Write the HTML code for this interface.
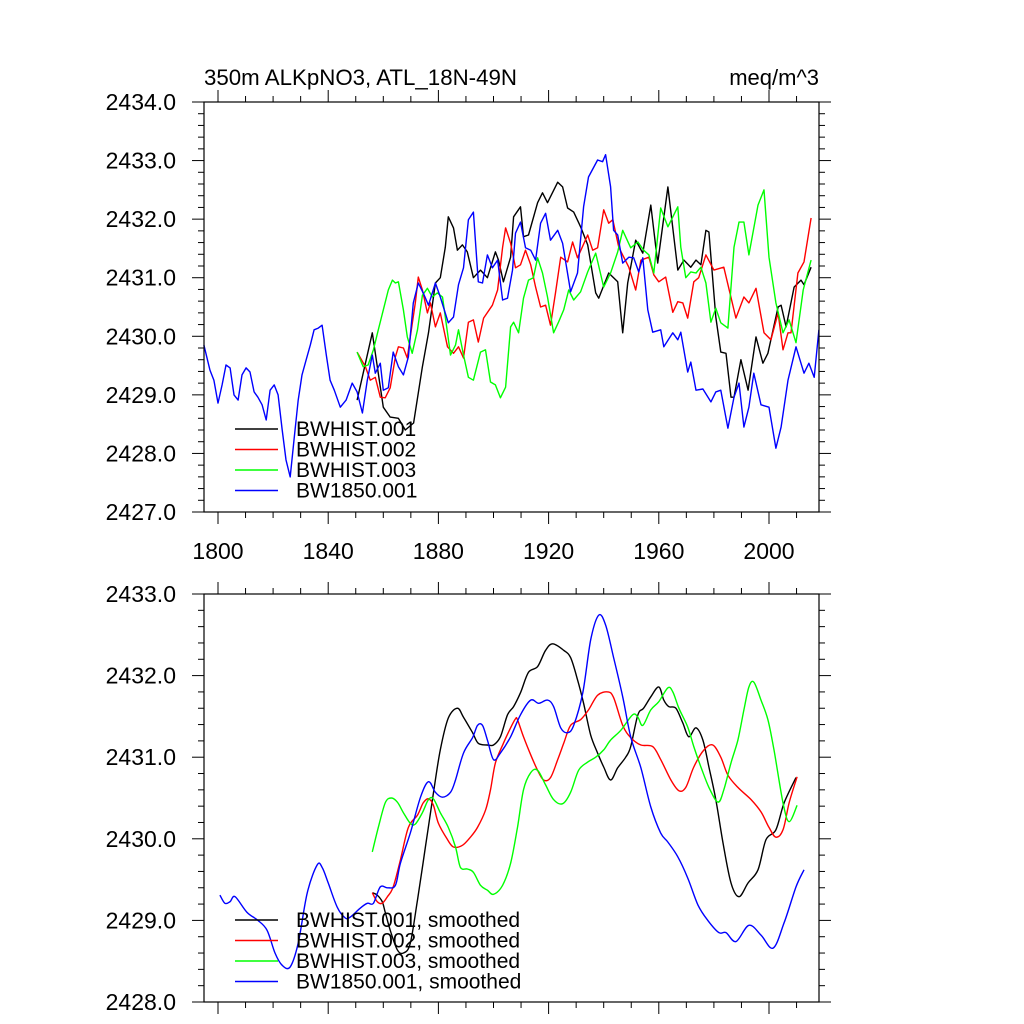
<!DOCTYPE html>
<html><head><meta charset="utf-8"><style>
html,body{margin:0;padding:0;background:#fff;}
svg{display:block;font-family:"Liberation Sans",Arial,sans-serif;}
</style></head><body>
<svg id="chart" width="1024" height="1024" viewBox="0 0 1024 1024">
<text x="204" y="85" font-size="22" textLength="313" lengthAdjust="spacingAndGlyphs">350m ALKpNO3, ATL_18N-49N</text>
<text x="819" y="85" font-size="22" text-anchor="end">meq/m^3</text>
</svg>
<script>
// ---- Top panel (raw) data ----
const b1Years=[1850.5,1856,1860,1862.5,1865.5,1868,1871,1874.2,1876.4,1878.9,1880.7,1882.5,1883.6,1885.5,1886.9,1888.7,1890.5,1892.7,1895.3,1897.8,1900.7,1901.8,1903.6,1906.2,1907.3,1909.8,1910.9,1912.7,1916,1917.8,1919.6,1923.3,1925.1,1926.9,1929.1,1931.6,1934.2,1937.1,1938.2,1941.8,1945.1,1946.9,1948.7,1951.6,1954.2,1957.1,1959.6,1963.3,1966.9,1969.1,1971.6,1973.5,1975.3,1977.1,1978.2,1980.7,1982.5,1984.4,1986.2,1987.3,1989.8,1992.4,1995.3,1997.8,1999.6,2003.3,2004.4,2006.2,2009.1,2011.6,2012.7,2015.3];
const b1Vals=[2428.91,2430.06,2428.79,2428.62,2428.6,2428.4,2428.52,2429.48,2430.06,2430.91,2431.0,2431.52,2432.04,2431.85,2431.47,2431.56,2431.44,2431.0,2431.13,2431.0,2431.44,2431.3,2430.93,2431.35,2432.04,2432.21,2431.7,2431.73,2432.28,2432.45,2432.28,2432.63,2432.55,2432.19,2432.12,2431.87,2431.56,2430.74,2430.65,2431.08,2430.93,2430.06,2430.91,2431.64,2431.42,2432.24,2431.25,2432.55,2431.13,2431.3,2431.18,2431.3,2431.22,2431.81,2431.78,2430.33,2429.73,2429.71,2428.96,2428.96,2429.6,2429.08,2429.99,2429.54,2429.71,2430.5,2430.53,2430.16,2430.84,2430.96,2430.88,2431.18];
const b2Years=[1850.5,1853.5,1855.3,1857.1,1858.9,1860.7,1862.5,1864.4,1865.5,1867.3,1868.7,1869.8,1871.6,1872.7,1874.2,1876,1877.1,1878.9,1880.7,1883.3,1885.5,1887.3,1889.1,1890.9,1892.7,1894.5,1896.4,1899.6,1901.5,1903.3,1904.4,1906.2,1908,1909.8,1911.6,1913.5,1915.3,1917.1,1918.9,1920.7,1922.5,1924.4,1926.9,1928.7,1930.5,1934.2,1936,1937.8,1940,1941.8,1943.3,1945.5,1949.1,1951.6,1953.5,1956.4,1958.2,1960,1962.5,1965.1,1966.9,1968.7,1970.5,1972.7,1974.5,1977.1,1980,1983.6,1988,1990.9,1992.7,1995.3,1998.2,2000.7,2003.3,2005.1,2006.9,2008,2010.5,2012.7,2015.3];
const b2Vals=[2429.73,2429.48,2429.25,2429.3,2428.96,2428.95,2429.12,2429.65,2429.82,2429.8,2429.63,2429.99,2430.57,2431.01,2430.79,2430.4,2430.57,2430.16,2430.4,2429.82,2429.71,2429.82,2429.63,2430.24,2430.28,2429.9,2430.31,2430.53,2430.79,2431.52,2431.85,2431.59,2431.17,2431.22,2431.47,2431.22,2430.84,2430.5,2430.53,2430.19,2430.74,2431.35,2431.27,2431.61,2431.34,2431.73,2431.47,2431.51,2432.16,2431.93,2431.99,2431.52,2431.18,2430.79,2431.3,2431.35,2431.05,2430.93,2431.01,2430.41,2430.59,2430.57,2430.31,2430.93,2431.0,2431.39,2431.13,2431.18,2430.31,2430.67,2430.57,2430.82,2430.06,2429.94,2430.4,2429.77,2430.06,2430.06,2431.08,2431.27,2432.02];
const b3Years=[1850.5,1852.7,1854.5,1856.4,1858.2,1860,1861.8,1863.3,1864.4,1865.5,1867.3,1868.7,1870.5,1872.4,1874.2,1876,1877.8,1879.6,1881.5,1883.3,1884.4,1886.2,1887.3,1889.1,1890.9,1892.7,1895.3,1897.1,1898.9,1900.7,1902.5,1904.4,1906.2,1907.3,1909.1,1910.9,1912.7,1914.5,1916,1917.8,1919.6,1921.8,1923.6,1925.5,1927.3,1929.1,1931.6,1934.2,1937.1,1940,1942.5,1945.1,1946.9,1949.8,1952.4,1954.5,1956.4,1958.2,1960.7,1963.3,1966.9,1968,1969.8,1971.6,1973.5,1975.3,1977.1,1978.9,1980.7,1982.5,1985.1,1987.3,1989.1,1990.9,1992.7,1996,1998.2,2000,2002.5,2005.1,2007.3,2009.8,2012.4,2015.3];
const b3Vals=[2429.73,2429.48,2429.51,2429.77,2430.11,2430.45,2430.79,2430.96,2430.91,2430.93,2430.45,2429.99,2429.71,2430.11,2430.7,2430.82,2430.67,2430.74,2430.67,2430.06,2429.68,2429.85,2430.11,2429.68,2429.3,2429.25,2429.73,2429.77,2429.22,2429.17,2428.95,2429.13,2430.16,2430.24,2430.06,2430.65,2430.96,2431.0,2431.34,2431.08,2430.67,2430.06,2430.24,2430.45,2430.79,2430.62,2430.76,2431.1,2431.42,2430.84,2431.08,2431.44,2431.81,2431.51,2431.61,2431.47,2431.39,2431.08,2432.19,2431.87,2432.21,2431.52,2431.0,2431.1,2431.08,2431.18,2430.91,2430.24,2430.48,2430.23,2430.14,2431.52,2431.95,2431.95,2431.39,2432.24,2432.5,2431.35,2430.57,2430.06,2430.28,2429.89,2430.79,2431.3];
const b4Years=[1794.9,1797.1,1798.5,1800,1801.5,1802.9,1804.4,1805.8,1807.3,1808.7,1810.2,1811.6,1813.1,1814.5,1816,1817.5,1818.9,1820.4,1821.8,1823.3,1824.7,1826.2,1827.6,1829.1,1830.5,1832,1833.5,1834.9,1836.4,1837.8,1839.3,1840.7,1842.2,1844.4,1846.5,1848.7,1850.5,1852.4,1854.2,1856,1857.1,1858.9,1860,1861.8,1863.6,1865.5,1867.3,1869.1,1870.9,1872.7,1874.5,1876.4,1878.9,1880.7,1883.6,1885.5,1887.3,1889.1,1890.9,1892.7,1894.5,1896,1897.8,1899.6,1901.5,1903.3,1905.1,1906.9,1908,1909.8,1911.6,1913.5,1915.3,1917.1,1918.9,1920.7,1923.3,1925.1,1928,1930.5,1932.7,1934.5,1937.8,1939.6,1940.7,1942.5,1943.6,1945.1,1946.9,1949.1,1950.9,1952.7,1954.2,1956,1957.8,1960.7,1961.8,1965.1,1966.9,1968,1970.5,1971.6,1973.5,1976,1978.9,1980.7,1982.5,1985.1,1987.3,1989.1,1990.9,1992.7,1994.5,1997.1,2000,2002.5,2004.4,2006.9,2009.8,2012.7,2014.5,2016.4,2018.1];
const b4Vals=[2429.85,2429.42,2429.25,2428.86,2429.17,2429.51,2429.46,2429.0,2428.91,2429.34,2429.46,2429.39,2429.05,2428.96,2428.83,2428.57,2429.08,2429.17,2429.0,2428.4,2427.89,2427.6,2428.23,2428.91,2429.34,2429.6,2429.85,2430.11,2430.14,2430.19,2429.68,2429.25,2429.08,2428.79,2428.91,2429.2,2429.05,2428.69,2429.25,2429.68,2429.37,2429.54,2429.08,2429.12,2429.73,2429.48,2429.34,2429.65,2430.57,2430.91,2430.74,2430.53,2430.91,2430.67,2430.23,2430.33,2430.88,2431.17,2431.99,2432.12,2430.93,2430.91,2431.39,2431.17,2431.3,2430.62,2430.65,2431.13,2431.76,2431.95,2431.51,2431.47,2431.3,2431.93,2432.1,2431.64,2431.81,2431.59,2430.76,2431.08,2432.21,2432.72,2433.01,2432.98,2433.1,2432.55,2431.81,2431.73,2431.25,2431.35,2431.34,2431.1,2431.34,2430.45,2430.07,2430.11,2429.82,2430.06,2429.94,2430.07,2429.39,2429.56,2429.08,2429.1,2428.88,2429.05,2429.08,2428.43,2428.96,2429.2,2428.45,2428.79,2429.37,2428.83,2428.79,2428.09,2428.45,2429.25,2429.82,2429.37,2429.54,2429.3,2430.11];

// ---- Bottom panel (smoothed) data ----
const s1Years=[1856,1857.8,1859.6,1860.7,1862.5,1865.1,1867.3,1869.8,1872.4,1875.3,1878.2,1880.7,1883.6,1886.9,1889.1,1892.4,1894.5,1897.8,1900,1902.5,1905.1,1907.3,1909.8,1912.7,1916,1918.9,1921.5,1925.5,1928,1930.5,1932.7,1935.3,1937.8,1940,1942.5,1945.1,1948,1949.8,1952.4,1954.5,1957.1,1960,1961.8,1963.6,1966.2,1968.7,1970.9,1973.5,1976,1978.2,1980.7,1983.3,1986.2,1989.1,1992.4,1996,1998.9,2002.5,2005.5,2009.8];
const s1Vals=[2429.34,2429.31,2429.23,2429.1,2428.88,2428.64,2428.6,2428.72,2429.25,2429.9,2430.56,2431.09,2431.48,2431.6,2431.49,2431.3,2431.17,2431.15,2431.15,2431.25,2431.52,2431.62,2431.79,2432.04,2432.11,2432.31,2432.39,2432.31,2432.22,2431.95,2431.66,2431.27,2431.05,2430.88,2430.72,2430.87,2431.0,2431.13,2431.52,2431.6,2431.74,2431.86,2431.7,2431.62,2431.6,2431.42,2431.25,2431.36,2431.21,2430.88,2430.48,2429.95,2429.46,2429.29,2429.46,2429.62,2429.99,2430.11,2430.44,2430.75];
const s2Years=[1856,1857.8,1859.6,1861.5,1863.6,1866.2,1869.1,1872.4,1874.5,1876.4,1878.2,1880,1883.3,1885.5,1888.7,1891.6,1894.2,1897.1,1898.9,1900.7,1903.6,1906.2,1908,1908.7,1910.9,1913.5,1916,1918.2,1920.7,1923.3,1925.5,1928,1931.6,1934.5,1937.8,1941.5,1943.6,1946.9,1949.8,1953.5,1957.8,1960.7,1964.4,1967.3,1969.8,1972.7,1976.4,1979.6,1982.5,1985.1,1988.7,1993.5,1997.1,2000,2002.5,2005.1,2007.3,2010.2];
const s2Vals=[2429.34,2429.23,2429.21,2429.29,2429.41,2429.74,2430.14,2430.29,2430.44,2430.49,2430.41,2430.19,2429.99,2429.9,2429.92,2430.02,2430.14,2430.35,2430.6,2430.93,2431.17,2431.36,2431.47,2431.46,2431.25,2431.03,2430.84,2430.72,2430.75,2430.97,2431.17,2431.39,2431.46,2431.58,2431.76,2431.8,2431.73,2431.39,2431.24,2431.15,2431.13,2430.97,2430.72,2430.59,2430.63,2430.88,2431.09,2431.15,2431.0,2430.78,2430.63,2430.48,2430.33,2430.14,2430.02,2430.11,2430.44,2430.76];
const s3Years=[1856,1858.2,1860.7,1862.9,1865.1,1867.3,1869.8,1871.6,1874.2,1876.4,1878.2,1880.7,1883.6,1886.2,1888,1890.5,1892.7,1895.3,1897.8,1900,1903.3,1906.2,1908.7,1910.9,1913.5,1916,1918.9,1921.8,1925.1,1928,1930.9,1934.2,1937.1,1940,1942.5,1946.2,1950.5,1952.4,1954.2,1957.1,1960,1963.3,1965.1,1967.3,1970.5,1972.7,1975.3,1978.2,1981.5,1983.6,1986.2,1988.7,1990.9,1992.7,1994.5,1997.1,1999.6,2001.8,2005.1,2007.3,2010.2];
const s3Vals=[2429.84,2430.14,2430.44,2430.5,2430.45,2430.32,2430.19,2430.18,2430.32,2430.48,2430.49,2430.32,2430.14,2429.9,2429.65,2429.63,2429.59,2429.43,2429.37,2429.32,2429.43,2429.7,2430.14,2430.6,2430.81,2430.84,2430.66,2430.48,2430.43,2430.57,2430.84,2430.94,2431.0,2431.09,2431.21,2431.33,2431.52,2431.49,2431.39,2431.58,2431.68,2431.85,2431.8,2431.6,2431.37,2431.13,2430.88,2430.63,2430.45,2430.6,2430.93,2431.21,2431.58,2431.86,2431.92,2431.7,2431.46,2431.09,2430.44,2430.21,2430.41];
const s4Years=[1800.7,1802.5,1804.4,1806.2,1810.5,1814.5,1817.8,1820.7,1823.3,1826.2,1829.1,1832.4,1836,1837.8,1840,1843.3,1846.2,1848,1851.6,1854.2,1856.4,1858.9,1861.5,1864.4,1866.2,1869.8,1873.5,1876.4,1878.9,1881.5,1884.4,1886.2,1889.1,1892.4,1894.2,1896,1897.8,1900,1902.5,1906.2,1909.8,1913.5,1916.4,1919.6,1921.8,1924.4,1926.9,1929.1,1932.4,1935.3,1938.2,1940.7,1943.6,1946.9,1949.8,1953.5,1957.1,1960.7,1963.3,1966.9,1970.5,1974.2,1977.8,1981.8,1984.4,1988,1992.7,1997.1,2001.5,2005.5,2009.8,2012.7];
const s4Vals=[2429.31,2429.21,2429.23,2429.29,2429.1,2429.0,2428.88,2428.6,2428.45,2428.43,2428.72,2429.34,2429.68,2429.65,2429.46,2429.16,2429.03,2429.04,2429.15,2429.21,2429.21,2429.41,2429.4,2429.43,2429.7,2430.07,2430.51,2430.7,2430.57,2430.51,2430.57,2430.72,2431.05,2431.24,2431.39,2431.39,2431.21,2430.97,2431.05,2431.25,2431.52,2431.7,2431.66,2431.7,2431.62,2431.36,2431.3,2431.39,2431.79,2432.44,2432.74,2432.62,2432.22,2431.74,2431.25,2430.87,2430.39,2430.07,2429.96,2429.78,2429.52,2429.19,2429.0,2428.85,2428.85,2428.74,2428.94,2428.82,2428.66,2428.97,2429.41,2429.62];

const xTickVals=[1800,1840,1880,1920,1960,2000];
const xTickLabels=["1800","1840","1880","1920","1960","2000"];
const topYTicks=[2427,2428,2429,2430,2431,2432,2433,2434];
const botYTicks=[2428,2429,2430,2431,2432,2433];
const topLegend=["BWHIST.001","BWHIST.002","BWHIST.003","BW1850.001"];
const botLegend=["BWHIST.001, smoothed","BWHIST.002, smoothed","BWHIST.003, smoothed","BW1850.001, smoothed"];
const colors=["#000000","#ff0000","#00ff00","#0000ff"];

const NS="http://www.w3.org/2000/svg";
const svg=document.getElementById('chart');
const X0=204,X1=819,XMIN=1794.92,XMAX=2018.15;
function xs(v){return X0+(v-XMIN)/(XMAX-XMIN)*(X1-X0);}
function mk(tag,attrs,parent){const e=document.createElementNS(NS,tag);for(const k in attrs)e.setAttribute(k,attrs[k]);(parent||svg).appendChild(e);return e;}
function smoothPath(p){
  let d='M'+p[0][0].toFixed(1)+','+p[0][1].toFixed(1);
  for(let i=0;i<p.length-1;i++){
    const p0=p[i-1]||p[i],p1=p[i],p2=p[i+1],p3=p[i+2]||p2;
    const c1x=p1[0]+(p2[0]-p0[0])/6,c1y=p1[1]+(p2[1]-p0[1])/6;
    const c2x=p2[0]-(p3[0]-p1[0])/6,c2y=p2[1]-(p3[1]-p1[1])/6;
    d+=' C'+c1x.toFixed(1)+','+c1y.toFixed(1)+' '+c2x.toFixed(1)+','+c2y.toFixed(1)+' '+p2[0].toFixed(1)+','+p2[1].toFixed(1);
  }
  return d;
}

function panel(name,top,bot,ymin,ymax,yTicks,seriesY,seriesV,legend,legY,smooth){
  const g=mk('g',{});
  
  
  const ys=v=>bot-(v-ymin)/(ymax-ymin)*(bot-top);
  for(let s=0;s<seriesY.length;s++){
    const p=seriesY[s].map((yr,i)=>[xs(yr),ys(seriesV[s][i])]);
    let el;
    if(smooth){
      el=mk('path',{d:smoothPath(p),fill:'none',stroke:colors[s],'stroke-width':1.4},g);
    }else{
      el=mk('polyline',{points:p.map(q=>q[0].toFixed(1)+','+q[1].toFixed(1)).join(' '),fill:'none',stroke:colors[s],'stroke-width':1.4,'stroke-linejoin':'round'},g);
    }
    
    
  }
  const fr=mk('rect',{x:X0,y:top,width:X1-X0,height:bot-top,fill:'none',stroke:'#000','stroke-width':1.2},g);
  
  
  for(let v=ymin;v<=ymax+1e-6;v+=0.2){
    const y=ys(v);const major=Math.abs(v-Math.round(v))<1e-6;const L=major?12:6;
    mk('line',{x1:X0-L,y1:y,x2:X0,y2:y,stroke:'#000','stroke-width':1},g);
    mk('line',{x1:X1,y1:y,x2:X1+L,y2:y,stroke:'#000','stroke-width':1},g);
  }
  yTicks.forEach(v=>{
    const t=mk('text',{x:176,y:ys(v)+8,'font-size':23,'text-anchor':'end'},g);
    t.textContent=v.toFixed(1);
    
    
  });
  for(let yr=1800;yr<=2010;yr+=10){
    const x=xs(yr);const major=(yr%40===0);const L=major?12:6;
    mk('line',{x1:x,y1:bot,x2:x,y2:bot+L,stroke:'#000','stroke-width':1},g);
    mk('line',{x1:x,y1:top-L,x2:x,y2:top,stroke:'#000','stroke-width':1},g);
  }
  legend.forEach((lab,i)=>{
    const y=legY+i*20.5;
    const ln=mk('line',{x1:235,y1:y,x2:278,y2:y,stroke:colors[i],'stroke-width':1.4},g);
    
    
    const t=mk('text',{x:296,y:y+7,'font-size':21},g);
    t.textContent=lab;
    
    
  });
}
panel('top-panel',102,512,2427,2434,topYTicks,[b1Years,b2Years,b3Years,b4Years],[b1Vals,b2Vals,b3Vals,b4Vals],topLegend,429,false);
panel('bottom-panel',594,1002,2428,2433,botYTicks,[s1Years,s2Years,s3Years,s4Years],[s1Vals,s2Vals,s3Vals,s4Vals],botLegend,920,true);
xTickVals.forEach((v,i)=>{
  const t=mk('text',{x:xs(v),y:559,'font-size':23,'text-anchor':'middle'});
  t.textContent=xTickLabels[i];
  
  
});
</script>
</body></html>
